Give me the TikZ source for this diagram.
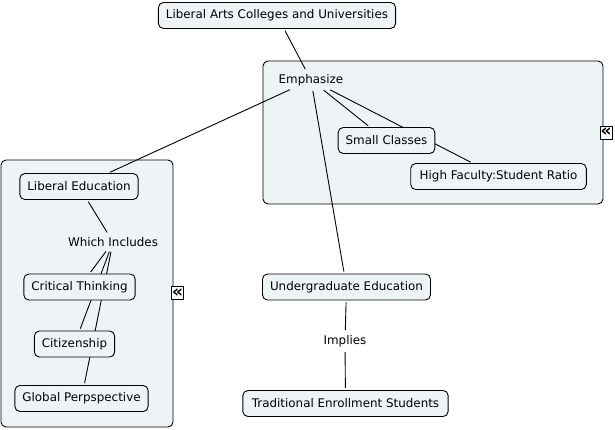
\documentclass[tikz,border=0pt]{standalone}
\usepackage{fontspec}
\setmainfont{DejaVu Sans}
\pgfdeclarelayer{groups}
\pgfdeclarelayer{links}
\pgfsetlayers{groups,links,main}
\definecolor{mapfill}{RGB}{238,244,246}
\tikzset{
  concept/.style={draw,rounded corners=5pt,fill=mapfill,line width=0.9pt,
    minimum height=26pt,inner xsep=7.5pt,font=\fontsize{11.9}{13}\selectfont},
  phrase/.style={inner sep=3pt,font=\fontsize{11.9}{13}\selectfont},
  groupbox/.style={draw,rounded corners=5pt,fill=mapfill,line width=0.9pt},
  collapse/.style={draw,fill=white,line width=0.9pt,inner sep=0pt,
    minimum width=12pt,minimum height=13pt,font=\bfseries\fontsize{17}{17}\selectfont},
  link/.style={draw,line width=0.9pt,shorten <=2pt,shorten >=2pt}
}
\begin{document}
\begin{tikzpicture}[x=1pt,y=-1pt]
                \useasboundingbox (0,0) rectangle (615,429);
                % grouped concepts
                \begin{pgfonlayer}{groups}
                \draw[groupbox] (263,61) rectangle (603,204);
                \draw[groupbox] (1,160) rectangle (173,427);
                \end{pgfonlayer}
                \node[collapse] (foldright) at (606,132.5) {«};
                \node[collapse] (foldleft) at (177.5,293) {«};
                
                \node[concept] (colleges) at (277,15.5) {Liberal Arts Colleges and Universities};
                \node[phrase] (emphasize) at (311,80) {Emphasize};
                \node[concept] (classes) at (386.5,140.5) {Small Classes};
                \node[concept,inner xsep=9pt] (ratio) at (498.5,176.5) {High Faculty:Student Ratio};
                
                \node[concept] (libed) at (79,186.5) {Liberal Education};
                \node[phrase] (includes) at (113,242) {Which Includes};
                \node[concept] (critical) at (79.5,287) {Critical Thinking};
                \node[concept] (citizen) at (74.5,344) {Citizenship};
                \node[concept] (global) at (81.5,398.5) {Global Perpspective};
                
                \node[concept] (undergrad) at (346.5,287) {Undergraduate Education};
                \node[phrase] (implies) at (345,341) {Implies};
                \node[concept,inner xsep=9pt] (traditional) at (345.5,403.5) {Traditional Enrollment Students};
                
                % links run behind the boxes
                \begin{pgfonlayer}{links}
                \draw[link] (colleges)--(emphasize);
                \draw[link] (emphasize)--(libed);
                \draw[link] (emphasize)--(classes);
                \draw[link] (emphasize)--(ratio);
                \draw[link] (emphasize)--(undergrad);
                \draw[link] (libed)--(includes);
                \draw[link] (includes)--(critical);
                \draw[link] (includes)--(citizen);
                \draw[link] (includes)--(global);
                \draw[link] (undergrad)--(implies);
                \draw[link] (implies)--(traditional);
                \end{pgfonlayer}
            \end{tikzpicture}
\end{document}
